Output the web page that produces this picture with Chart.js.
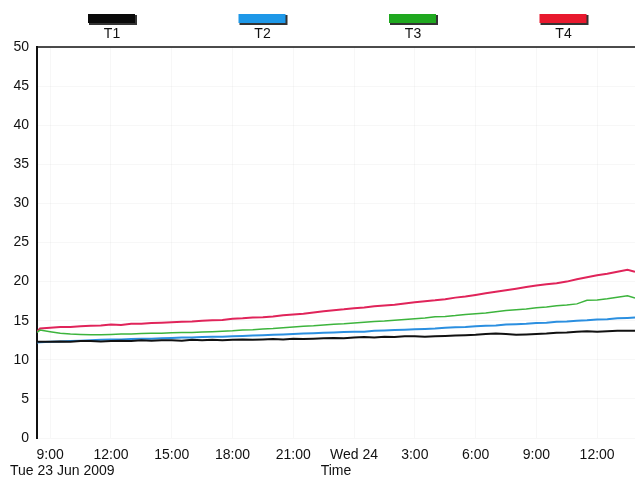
<!DOCTYPE html>
<html>
<head>
<meta charset="utf-8">
<script src="https://cdn.jsdelivr.net/npm/chart.js@4.4.1/dist/chart.umd.min.js"></script>
<style>
  html, body { margin: 0; padding: 0; background: #fff; }
  #wrap { width: 635px; height: 480px; }
</style>
</head>
<body>
<div id="wrap"><canvas id="c" width="635" height="480"></canvas></div>
<script>
// Hours since midnight, Tue 23 Jun 2009
const hours = [
  8.35, 8.5, 9, 9.5, 10, 10.5, 11, 11.5, 12, 12.5,
  13, 13.5, 14, 14.5, 15, 15.5, 16, 16.5, 17, 17.5,
  18, 18.5, 19, 19.5, 20, 20.5, 21, 21.5, 22, 22.5,
  23, 23.5, 24, 24.5, 25, 25.5, 26, 26.5, 27, 27.5,
  28, 28.5, 29, 29.5, 30, 30.5, 31, 31.5, 32, 32.5,
  33, 33.5, 34, 34.5, 35, 35.5, 36, 36.5, 37, 37.5,
  37.87
];

const t1 = [
  12.3, 12.3, 12.3, 12.35, 12.3, 12.4, 12.4, 12.35, 12.4, 12.45,
  12.4, 12.5, 12.45, 12.5, 12.5, 12.45, 12.55, 12.5, 12.55, 12.5,
  12.55, 12.6, 12.55, 12.6, 12.65, 12.6, 12.7, 12.65, 12.7, 12.75,
  12.8, 12.75, 12.85, 12.9, 12.85, 12.95, 12.9, 13.0, 13.0, 12.95,
  13.0, 13.05, 13.1, 13.15, 13.2, 13.3, 13.35, 13.3, 13.2, 13.25,
  13.3, 13.35, 13.45, 13.5, 13.6, 13.65, 13.6, 13.65, 13.7, 13.7,
  13.7
];

const t2 = [
  12.2, 12.25, 12.3, 12.35, 12.4, 12.45, 12.5, 12.55, 12.6, 12.6,
  12.65, 12.7, 12.7, 12.75, 12.8, 12.85, 12.85, 12.9, 12.95, 12.95,
  13.0, 13.05, 13.1, 13.15, 13.2, 13.25, 13.3, 13.35, 13.4, 13.45,
  13.5, 13.55, 13.6, 13.6, 13.7, 13.75, 13.8, 13.85, 13.9, 13.95,
  14.0, 14.1, 14.15, 14.2, 14.3, 14.35, 14.4, 14.5, 14.55, 14.6,
  14.7, 14.75, 14.85, 14.9, 15.0, 15.05, 15.15, 15.2, 15.3, 15.35,
  15.4
];

const t3 = [
  13.5, 13.8, 13.6, 13.4, 13.3, 13.25, 13.2, 13.2, 13.25, 13.3,
  13.3, 13.35, 13.4, 13.4, 13.45, 13.5, 13.5, 13.55, 13.6, 13.65,
  13.7, 13.8, 13.85, 13.95, 14.0, 14.1, 14.2, 14.3, 14.35, 14.45,
  14.55, 14.6, 14.7, 14.8, 14.9, 14.95, 15.05, 15.15, 15.25, 15.35,
  15.5, 15.55, 15.65, 15.8, 15.9, 16.0, 16.15, 16.3, 16.4, 16.5,
  16.65, 16.75, 16.9, 17.0, 17.15, 17.6, 17.65, 17.8, 18.0, 18.2,
  17.9
];

const t4 = [
  13.6, 14.0, 14.1, 14.2, 14.2, 14.3, 14.35, 14.4, 14.5, 14.45,
  14.6, 14.6, 14.7, 14.75, 14.8, 14.85, 14.9, 15.0, 15.05, 15.1,
  15.25, 15.3, 15.4, 15.45, 15.55, 15.7, 15.8, 15.9, 16.05, 16.2,
  16.35, 16.45, 16.6, 16.7, 16.85, 16.95, 17.05, 17.2, 17.35, 17.5,
  17.6, 17.75, 17.95, 18.1, 18.3, 18.5, 18.7, 18.9, 19.1, 19.3,
  19.5, 19.65, 19.8, 20.0, 20.3, 20.55, 20.8, 21.0, 21.25, 21.5,
  21.25
];

const seriesNames = ['T1', 'T2', 'T3', 'T4'];
const lineColors = ['#111111', '#2b8fe0', '#3db43d', '#e0245a'];
const keyColors = ['#0a0a0a', '#1e98e8', '#1fa81f', '#e8192e'];

const tickHours = [9, 12, 15, 18, 21, 24, 27, 30, 33, 36];
const tickLabels = ['9:00', '12:00', '15:00', '18:00', '21:00', 'Wed 24', '3:00', '6:00', '9:00', '12:00'];
const yTicks = [0, 5, 10, 15, 20, 25, 30, 35, 40, 45, 50];

const FONT = '"Liberation Sans", Arial, Helvetica, sans-serif';

function pts(vals) {
  return hours.map((h, i) => ({ x: h, y: vals[i] }));
}

const seriesValues = [t1, t2, t3, t4];
const datasets = seriesValues.map((vals, i) => ({
  label: seriesNames[i],
  data: pts(vals),
  borderColor: lineColors[i],
  borderWidth: i === 2 ? 1.5 : 2,
  pointRadius: 0,
  tension: 0
}));

// Key across the top, date under the first tick, axis frame
const decorations = {
  id: 'decorations',
  afterDraw(chart) {
    const ctx = chart.ctx;
    const area = chart.chartArea;
    ctx.save();

    // frame: top rule
    ctx.strokeStyle = '#111';
    ctx.lineWidth = 1.5;
    ctx.beginPath();
    ctx.moveTo(area.left, area.top);
    ctx.lineTo(area.right, area.top);
    ctx.stroke();

    // key
    ctx.font = '14px ' + FONT;
    ctx.textAlign = 'center';
    ctx.textBaseline = 'middle';
    seriesNames.forEach((name, i) => {
      const cx = 112 + i * 150.5;
      ctx.fillStyle = '#333';
      ctx.fillRect(cx - 23, 15, 48, 10);
      ctx.fillStyle = keyColors[i];
      ctx.fillRect(cx - 24, 14, 47, 9);
      ctx.fillStyle = '#111';
      ctx.fillText(name, cx, 34);
    });

    // date and axis title
    ctx.textAlign = 'left';
    ctx.fillText('Tue 23 Jun 2009', 10, 471);
    ctx.textAlign = 'center';
    ctx.fillText('Time', (area.left + area.right) / 2, 471);
    ctx.restore();
  }
};

new Chart(document.getElementById('c'), {
  type: 'line',
  data: { datasets },
  options: {
    responsive: false,
    animation: false,
    layout: { padding: { top: 47, right: 0, bottom: 0, left: 0 } },
    plugins: { legend: { display: false }, tooltip: { enabled: false } },
    scales: {
      x: {
        type: 'linear',
        min: 8.35,
        max: 37.87,
        afterFit(scale) { scale.height = 42; },
        afterBuildTicks(scale) { scale.ticks = tickHours.map(v => ({ value: v })); },
        ticks: {
          autoSkip: false,
          maxRotation: 0,
          padding: 9,
          color: '#111',
          font: { family: FONT, size: 14 },
          callback: (v) => tickLabels[tickHours.indexOf(v)]
        },
        grid: { color: 'rgba(0,0,0,0.03)', drawTicks: false },
        border: { display: false }
      },
      y: {
        min: 0,
        max: 50,
        afterFit(scale) { scale.width = 37; },
        afterBuildTicks(scale) { scale.ticks = yTicks.map(v => ({ value: v })); },
        ticks: {
          padding: 8,
          color: '#111',
          font: { family: FONT, size: 14 }
        },
        grid: { color: 'rgba(0,0,0,0.03)', drawTicks: false },
        border: { display: true, color: '#111', width: 2 }
      }
    }
  },
  plugins: [decorations]
});
</script>
</body>
</html>
